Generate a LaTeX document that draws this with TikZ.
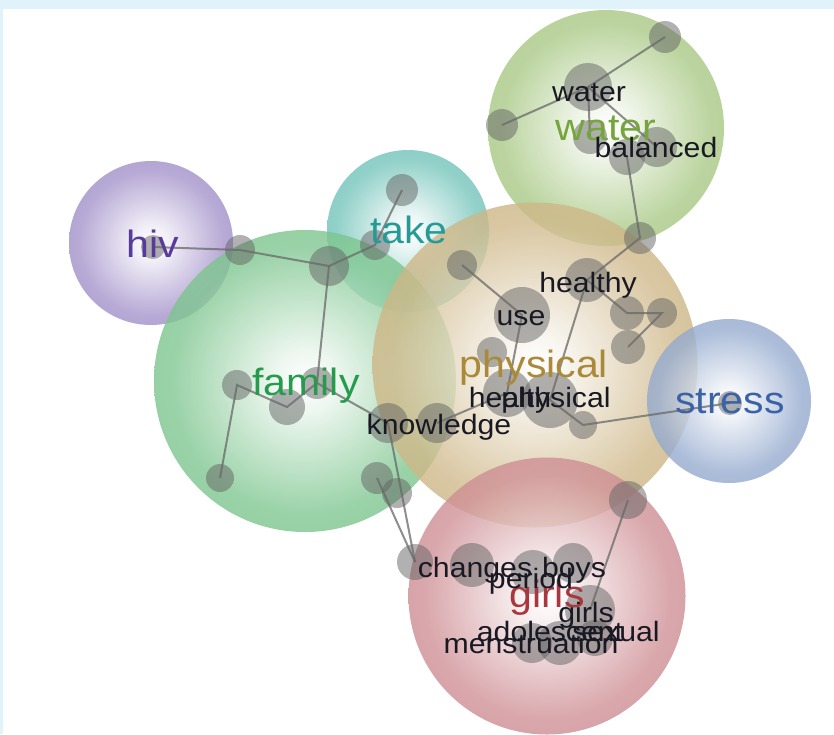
\documentclass[tikz,border=0pt]{standalone}
\usepackage{fontspec}
\newfontfamily\lblfont[FakeStretch=1.08]{Liberation Sans}

% bubble colours (edge tones) and topic label colours
\definecolor{cwater}{RGB}{136,180,86}
\definecolor{chiv}{RGB}{128,104,182}
\definecolor{ctake}{RGB}{62,174,160}
\definecolor{cfamily}{RGB}{76,176,100}
\definecolor{cphysical}{RGB}{188,156,90}
\definecolor{cstress}{RGB}{108,138,188}
\definecolor{cgirls}{RGB}{188,100,108}
\definecolor{twater}{RGB}{118,165,62}
\definecolor{thiv}{RGB}{88,58,155}
\definecolor{ttake}{RGB}{38,155,150}
\definecolor{tfamily}{RGB}{38,155,78}
\definecolor{tphysical}{RGB}{170,138,58}
\definecolor{tstress}{RGB}{58,98,165}
\definecolor{tgirls}{RGB}{168,55,62}
\definecolor{dotgray}{RGB}{100,100,100}
\definecolor{linkgray}{RGB}{105,105,105}
\definecolor{wordink}{RGB}{25,25,35}
\definecolor{frame}{RGB}{224,243,250}

% white centre fading to the bubble colour at the rim
\newcommand\bubbleshading[2]{%
  \pgfdeclareradialshading{#1}{\pgfpoint{0bp}{0bp}}%
    {color(0bp)=(white); color(5bp)=(#2!12!white);
     color(22bp)=(#2!70!white); color(50bp)=(#2)}}
\bubbleshading{bubwater}{cwater}
\bubbleshading{bubhiv}{chiv}
\bubbleshading{bubtake}{ctake}
\bubbleshading{bubfamily}{cfamily}
\bubbleshading{bubphysical}{cphysical}
\bubbleshading{bubstress}{cstress}
\bubbleshading{bubgirls}{cgirls}

\begin{document}
\begin{tikzpicture}[x=1pt,y=-1pt,
  bubble/.style={circle, draw=none, inner sep=0pt, fill opacity=0.8,
                 shade, shading=#1},
  dot/.style={circle, draw=none, inner sep=0pt, fill=dotgray,
              fill opacity=0.5, minimum size=#1},
  link/.style={draw=linkgray, line width=2pt, draw opacity=0.75},
  word/.style={font=\lblfont\fontsize{28}{28}\selectfont, text=wordink,
               anchor=base, inner sep=0pt},
  topic/.style={font=\lblfont\fontsize{38}{38}\selectfont, text=#1,
                anchor=base, inner sep=0pt}]

% page and light frame
\useasboundingbox (0,0) rectangle (834,734);
\fill[white] (0,0) rectangle (834,734);
\fill[frame] (0,0) rectangle (834,9);
\fill[frame] (0,0) rectangle (3,734);

% topic bubbles
\node[bubble=bubhiv, minimum size=164pt] (Bhiv) at (151,243) {};
\node[bubble=bubtake, minimum size=162pt] (Btake) at (408,231) {};
\node[bubble=bubfamily, minimum size=302pt] (Bfamily) at (305,381) {};
\node[bubble=bubwater, minimum size=236pt] (Bwater) at (606,128) {};
\node[bubble=bubphysical, minimum size=325pt] (Bphysical) at (535,365) {};
\node[bubble=bubstress, minimum size=164pt] (Bstress) at (729,401) {};
\node[bubble=bubgirls, minimum size=277pt] (Bgirls) at (547,596) {};

% term dots
\node[dot=32pt] (w1) at (665,37) {};
\node[dot=48pt] (wwater) at (588,87) {};
\node[dot=32pt] (w3) at (502,125) {};
\node[dot=34pt] (w4) at (590,137) {};
\node[dot=36pt] (w5) at (627,157) {};
\node[dot=40pt] (wbal) at (657,147) {};
\node[dot=32pt] (w7) at (640,238) {};

\node[dot=24pt] (h1) at (153,247) {};
\node[dot=30pt] (h2) at (240,250) {};
\node[dot=32pt] (t1) at (402,190) {};
\node[dot=30pt] (t2) at (375,245) {};
\node[dot=40pt] (t3) at (329,266) {};

\node[dot=30pt] (f1) at (237,385) {};
\node[dot=36pt] (f2) at (287,407) {};
\node[dot=32pt] (f3) at (317,383) {};
\node[dot=28pt] (f4) at (220,478) {};
\node[dot=32pt] (f5) at (377,478) {};
\node[dot=30pt] (f6) at (397,493) {};

\node[dot=30pt] (p1) at (462,265) {};
\node[dot=56pt] (puse) at (522,315) {};
\node[dot=44pt] (phealthy) at (587,280) {};
\node[dot=34pt] (p4) at (627,313) {};
\node[dot=30pt] (p5) at (662,313) {};
\node[dot=34pt] (p6) at (628,347) {};
\node[dot=30pt] (p7) at (492,352) {};
\node[dot=48pt] (phealth) at (507,393) {};
\node[dot=56pt] (pphys) at (550,400) {};
\node[dot=28pt] (p9) at (583,425) {};
\node[dot=40pt] (k1) at (388,423) {};
\node[dot=40pt] (k2) at (437,423) {};
\node[dot=24pt] (s1) at (730,403) {};

\node[dot=38pt] (g1) at (628,500) {};
\node[dot=36pt] (c0) at (415,562) {};
\node[dot=44pt] (gchanges) at (472,565) {};
\node[dot=44pt] (gperiod) at (533,572) {};
\node[dot=40pt] (gboys) at (573,563) {};
\node[dot=50pt] (ggirls) at (590,610) {};
\node[dot=40pt] (m1) at (532,643) {};
\node[dot=44pt] (m2) at (560,643) {};
\node[dot=36pt] (m3) at (595,638) {};

% co-occurrence links
\draw[link] (w1.center) -- (wwater.center) -- (w3.center);
\draw[link] (wwater.center) -- (w4.center);
\draw[link] (wwater.center) -- (wbal.center);
\draw[link] (w5.center) -- (w7.center) -- (phealthy.center);
\draw[link] (h1.center) -- (h2.center) -- (t3.center) -- (t2.center) -- (t1.center);
\draw[link] (t3.center) -- (f3.center);
\draw[link] (f4.center) -- (f1.center) -- (f2.center) -- (f3.center) -- (k1.center);
\draw[link] (k1.center) -- (c0.center);
\draw[link] (f5.center) -- (c0.center);
\draw[link] (p1.center) -- (puse.center) -- (phealth.center);
\draw[link] (k2.center) -- (phealth.center);
\draw[link] (phealthy.center) -- (pphys.center);
\draw[link] (phealthy.center) -- (p4.center) -- (p5.center) -- (p6.center);
\draw[link] (pphys.center) -- (p9.center) -- (s1.center);
\draw[link] (g1.center) -- (ggirls.center);

% topic labels
\node[topic=thiv] (Lhiv) at (153,257) {hiv};
\node[topic=ttake] (Ltake) at (409,243) {take};
\node[topic=tfamily] (Lfamily) at (306,395) {family};
\node[topic=twater] (Lwater) at (606,140) {water};
\node[topic=tphysical] (Lphysical) at (534,377) {physical};
\node[topic=tstress] (Lstress) at (730,413) {stress};
\node[topic=tgirls] (Lgirls) at (547,607) {girls};

% term labels
\node[word] (Twater) at (589,101) {water};
\node[word] (Tbalanced) at (656,157) {balanced};
\node[word] (Thealthy) at (588,292) {healthy};
\node[word] (Tuse) at (521,325) {use};
\node[word] (Thealth) at (510,407) {health};
\node[word] (Tphysical) at (556,407) {physical};
\node[word] (Tknowledge) at (439,434) {knowledge};
\node[word] (Tchanges) at (475,577) {changes};
\node[word] (Tboys) at (574,577) {boys};
\node[word] (Tperiod) at (531,588) {period};
\node[word] (Tgirls) at (586,622) {girls};
\node[word] (Tadolescent) at (550,641) {adolescent};
\node[word] (Tsexual) at (616,641) {sexual};
\node[word] (Tmenstruation) at (531,653) {menstruation};
\end{tikzpicture}
\end{document}
